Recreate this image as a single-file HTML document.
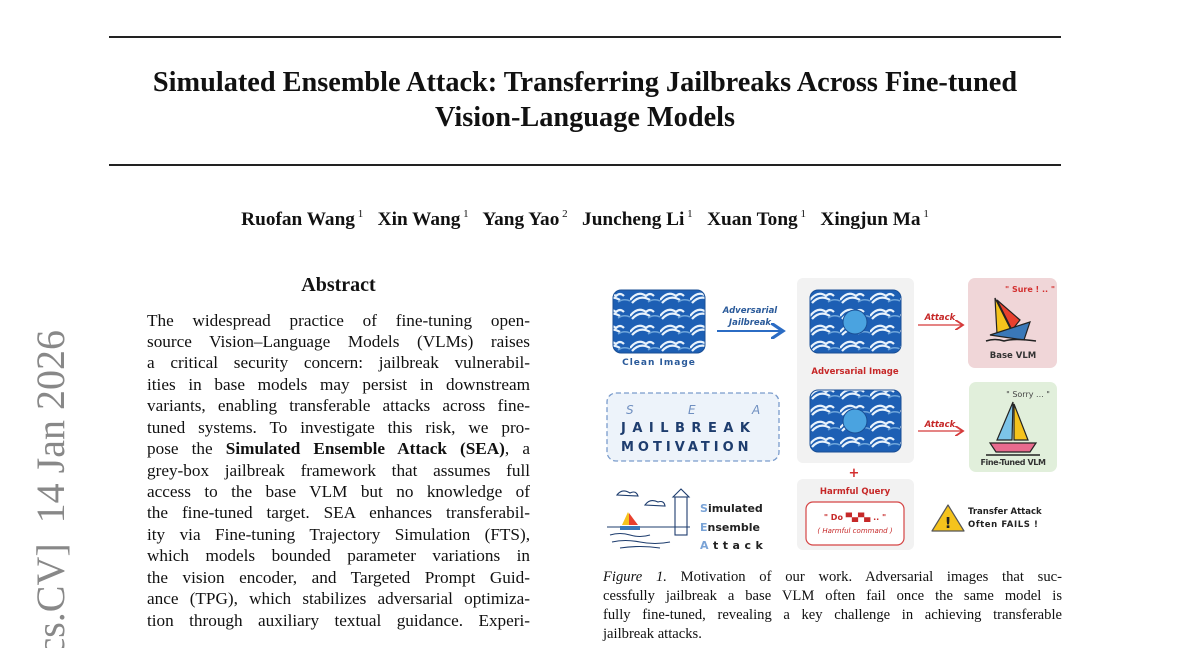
<!DOCTYPE html>
<html><head><meta charset="utf-8"><style>
html,body{margin:0;width:1200px;height:648px;overflow:hidden}
body{background:#fff;position:relative;font-family:"Liberation Serif",serif;color:#111}
#wrap{position:absolute;left:0;top:0;width:1200px;height:648px;overflow:hidden}
.a{position:absolute}
.rule{position:absolute;left:109px;width:952px;height:2px;background:#222}
.title{position:absolute;left:0;width:1170px;text-align:center;font-weight:bold;font-size:28.3px}
.ab{position:absolute;left:147px;width:383px;font-size:17.2px;line-height:21px;text-align:justify;text-align-last:justify;white-space:nowrap}
.cap{position:absolute;left:603px;width:459px;font-size:14.6px;text-align:justify;text-align-last:justify;white-space:nowrap}
sup{font-size:11px;font-weight:normal;vertical-align:8px}
</style></head><body><div id="wrap">
<div class="rule" style="top:36px"></div>
<div class="title" style="top:67px">Simulated Ensemble Attack: Transferring Jailbreaks Across Fine-tuned</div>
<div class="title" style="top:102px">Vision-Language Models</div>
<div class="rule" style="top:164px"></div>
<div class="a" style="top:208px;left:0;width:1170px;text-align:center;font-weight:bold;font-size:19.3px">Ruofan Wang<sup> 1</sup>&nbsp;&nbsp; Xin Wang<sup> 1</sup>&nbsp;&nbsp; Yang Yao<sup> 2</sup>&nbsp;&nbsp; Juncheng Li<sup> 1</sup>&nbsp;&nbsp; Xuan Tong<sup> 1</sup>&nbsp;&nbsp; Xingjun Ma<sup> 1</sup></div>
<div class="a" style="top:274px;left:147px;width:383px;text-align:center;font-weight:bold;font-size:20px">Abstract</div>
<div class="ab" style="top:310px">The widespread practice of fine-tuning open-</div>
<div class="ab" style="top:331px">source Vision–Language Models (VLMs) raises</div>
<div class="ab" style="top:352px">a critical security concern: jailbreak vulnerabil-</div>
<div class="ab" style="top:374px">ities in base models may persist in downstream</div>
<div class="ab" style="top:395px">variants, enabling transferable attacks across fine-</div>
<div class="ab" style="top:417px">tuned systems. To investigate this risk, we pro-</div>
<div class="ab" style="top:438px">pose the <b>Simulated Ensemble Attack (SEA)</b>, a</div>
<div class="ab" style="top:460px">grey-box jailbreak framework that assumes full</div>
<div class="ab" style="top:481px">access to the base VLM but no knowledge of</div>
<div class="ab" style="top:502px">the fine-tuned target. SEA enhances transferabil-</div>
<div class="ab" style="top:524px">ity via Fine-tuning Trajectory Simulation (FTS),</div>
<div class="ab" style="top:545px">which models bounded parameter variations in</div>
<div class="ab" style="top:567px">the vision encoder, and Targeted Prompt Guid-</div>
<div class="ab" style="top:588px">ance (TPG), which stabilizes adversarial optimiza-</div>
<div class="ab" style="top:610px">tion through auxiliary textual guidance. Experi-</div>
<svg class="a" style="left:0;top:300px" width="110" height="348" viewBox="0 300 110 348">
<text transform="translate(64,330) rotate(-90)" text-anchor="end" font-family="Liberation Serif" font-size="40" fill="#888" xml:space="preserve">arXiv:2601.00000v1  [cs.CV]  14 Jan 2026</text>
</svg>

<svg class="a" style="left:600px;top:270px" width="470" height="290" viewBox="600 270 470 290">
<defs>
<pattern id="w" x="0" y="0" width="30" height="16" patternUnits="userSpaceOnUse">
<rect width="30" height="16" fill="#1d5fb4"/>
<path d="M0 12 Q8 2 16 8 Q20 4 24 8 M2 15 Q10 6 20 12" stroke="#e8f2fb" stroke-width="2.2" fill="none"/>
<path d="M18 14 Q24 10 30 13" stroke="#6fa6db" stroke-width="1.5" fill="none"/>
</pattern>
<marker id="ab" markerWidth="8" markerHeight="8" refX="6" refY="4" orient="auto"><path d="M0 0 L6 4 L0 8" fill="none" stroke="#2b6cc4" stroke-width="1.6"/></marker>
<marker id="ar" markerWidth="8" markerHeight="8" refX="6" refY="4" orient="auto"><path d="M0 0 L6 4 L0 8" fill="none" stroke="#d53a3a" stroke-width="1.4"/></marker>
</defs>
<rect x="613" y="290" width="92" height="63" rx="8" fill="url(#w)" stroke="#1a4f95"/>
<text x="659" y="365" font-family="DejaVu Sans" font-weight="bold" font-size="9" fill="#2a5a9a" text-anchor="middle" letter-spacing="1">Clean Image</text>
<text x="750" y="313" font-family="DejaVu Sans" font-style="italic" font-weight="bold" font-size="8.5" fill="#2a5a9a" text-anchor="middle">Adversarial</text>
<text x="750" y="325" font-family="DejaVu Sans" font-style="italic" font-weight="bold" font-size="8.5" fill="#2a5a9a" text-anchor="middle">Jailbreak</text>
<line x1="717" y1="331" x2="783" y2="331" stroke="#2b6cc4" stroke-width="2" marker-end="url(#ab)"/>
<rect x="797" y="278" width="117" height="185" rx="6" fill="#f2f2f2"/>
<rect x="810" y="290" width="91" height="63" rx="8" fill="url(#w)" stroke="#1a4f95"/>
<circle cx="855" cy="322" r="12" fill="#4aa3e0" stroke="#1a4f95"/>
<text x="855" y="374" font-family="DejaVu Sans" font-weight="bold" font-size="8.5" fill="#c62828" text-anchor="middle">Adversarial Image</text>
<rect x="810" y="390" width="91" height="62" rx="8" fill="url(#w)" stroke="#1a4f95"/>
<circle cx="855" cy="421" r="12" fill="#4aa3e0" stroke="#1a4f95"/>
<text x="854" y="477" font-family="DejaVu Sans" font-weight="bold" font-size="13" fill="#d32f2f" text-anchor="middle">+</text>
<rect x="797" y="479" width="117" height="71" rx="6" fill="#f2f2f2"/>
<text x="855" y="494" font-family="DejaVu Sans" font-weight="bold" font-size="8.5" fill="#c62828" text-anchor="middle">Harmful Query</text>
<rect x="806" y="502" width="98" height="43" rx="7" fill="#fff" stroke="#d54545" stroke-width="1.2"/>
<text x="855" y="520" font-family="DejaVu Sans" font-weight="bold" font-size="8" fill="#c62828" text-anchor="middle">" Do ▀▄▀▄ .. "</text>
<text x="855" y="533" font-family="DejaVu Sans" font-style="italic" font-size="7" fill="#c62828" text-anchor="middle">( Harmful command )</text>
<text x="940" y="320" font-family="DejaVu Sans" font-style="italic" font-weight="bold" font-size="8.5" fill="#c62828" text-anchor="middle">Attack</text>
<line x1="918" y1="325" x2="963" y2="325" stroke="#d53a3a" stroke-width="1.3" marker-end="url(#ar)"/>
<text x="940" y="427" font-family="DejaVu Sans" font-style="italic" font-weight="bold" font-size="8.5" fill="#c62828" text-anchor="middle">Attack</text>
<line x1="918" y1="431" x2="963" y2="431" stroke="#d53a3a" stroke-width="1.3" marker-end="url(#ar)"/>
<rect x="968" y="278" width="89" height="90" rx="7" fill="#f0d6d8"/>
<text x="1030" y="292" font-family="DejaVu Sans" font-weight="bold" font-size="8" fill="#d32f2f" text-anchor="middle">" Sure ! .. "</text>
<polygon points="995,298 1012,332 997,334" fill="#f5c31c" stroke="#222" stroke-width="1.2"/>
<polygon points="997,300 1020,320 1012,330" fill="#e8402e" stroke="#222" stroke-width="1.2"/>
<path d="M990 335 L1030 322 L1024 340 Z" fill="#3a78b8" stroke="#222" stroke-width="1.2"/>
<path d="M986 341 Q995 338 1004 341 Q1014 338 1036 341" stroke="#222" stroke-width="1.5" fill="none"/>
<text x="1013" y="358" font-family="DejaVu Sans" font-weight="bold" font-size="8.5" fill="#333" text-anchor="middle">Base VLM</text>
<rect x="969" y="382" width="88" height="90" rx="7" fill="#e1efdb"/>
<text x="1028" y="397" font-family="DejaVu Sans" font-size="8" fill="#444" text-anchor="middle">" Sorry ... "</text>
<polygon points="1013,402 997,440 1012,440" fill="#7cc4e8" stroke="#222" stroke-width="1.2"/>
<polygon points="1014,404 1014,440 1028,440" fill="#f5c31c" stroke="#222" stroke-width="1.2"/>
<path d="M990 443 L1036 443 L1030 452 L996 452 Z" fill="#e86b8e" stroke="#222" stroke-width="1.2"/>
<line x1="986" y1="455" x2="1040" y2="455" stroke="#222" stroke-width="1.5"/>
<text x="1013" y="465" font-family="DejaVu Sans" font-weight="bold" font-size="8" fill="#333" text-anchor="middle" letter-spacing="-0.4">Fine-Tuned VLM</text>
<rect x="607" y="393" width="172" height="68" rx="9" fill="#edf3fa" stroke="#7a9ccc" stroke-width="1.3" stroke-dasharray="5,3"/>
<text x="626" y="414" font-family="DejaVu Sans" font-style="italic" font-size="12" fill="#6f8fc0">S</text>
<text x="688" y="414" font-family="DejaVu Sans" font-style="italic" font-size="12" fill="#6f8fc0">E</text>
<text x="752" y="414" font-family="DejaVu Sans" font-style="italic" font-size="12" fill="#6f8fc0">A</text>
<text x="621" y="432" font-family="DejaVu Sans" font-weight="bold" font-size="13" fill="#1e3d6e" letter-spacing="6.5">JAILBREAK</text>
<text x="621" y="451" font-family="DejaVu Sans" font-weight="bold" font-size="13" fill="#1e3d6e" letter-spacing="4">MOTIVATION</text>
<g stroke="#1e3d6e" stroke-width="1.1" fill="none">
<rect x="675" y="497" width="12" height="38" fill="#fff"/><path d="M673 497 L681 489 L689 497 Z"/>
<line x1="607" y1="527" x2="690" y2="527"/><path d="M610 535 Q620 532 630 535 Q640 538 650 535 M612 542 Q625 539 640 542 Q655 545 670 542 M620 548 Q640 545 660 548"/>
<path d="M617 495 Q622 488 630 493 Q636 490 638 496 Z"/><path d="M645 505 Q650 498 658 502 Q664 500 665 506 Z"/>
</g>
<polygon points="628,512 622,525 634,525" fill="#f5c31c"/><polygon points="629,513 629,525 638,525" fill="#e8402e"/><rect x="620" y="526" width="20" height="4" fill="#3a78b8"/>
<text x="700" y="512" font-family="DejaVu Sans" font-weight="bold" font-size="11" fill="#222"><tspan fill="#7aa3d6">S</tspan>imulated</text>
<text x="700" y="531" font-family="DejaVu Sans" font-weight="bold" font-size="11" fill="#222"><tspan fill="#7aa3d6">E</tspan>nsemble</text>
<text x="700" y="549" font-family="DejaVu Sans" font-weight="bold" font-size="11" fill="#222" letter-spacing="4.5"><tspan fill="#7aa3d6">A</tspan>ttack</text>
<polygon points="948,505 932,531 964,531" fill="#f5c31c" stroke="#555" stroke-width="1.2" stroke-linejoin="round"/>
<text x="948" y="528" font-family="DejaVu Sans" font-weight="bold" font-size="15" fill="#222" text-anchor="middle">!</text>
<text x="968" y="514" font-family="DejaVu Sans" font-weight="bold" font-size="8.5" fill="#222">Transfer Attack</text>
<text x="968" y="527" font-family="DejaVu Sans" font-weight="bold" font-size="8.5" fill="#222" letter-spacing="0.6">Often FAILS !</text>
</svg>

<div class="cap" style="top:569px"><i>Figure 1.</i> Motivation of our work. Adversarial images that suc-</div>
<div class="cap" style="top:588px">cessfully jailbreak a base VLM often fail once the same model is</div>
<div class="cap" style="top:607px">fully fine-tuned, revealing a key challenge in achieving transferable</div>
<div class="cap" style="top:626px;text-align-last:left">jailbreak attacks.</div>
</div></body></html>
